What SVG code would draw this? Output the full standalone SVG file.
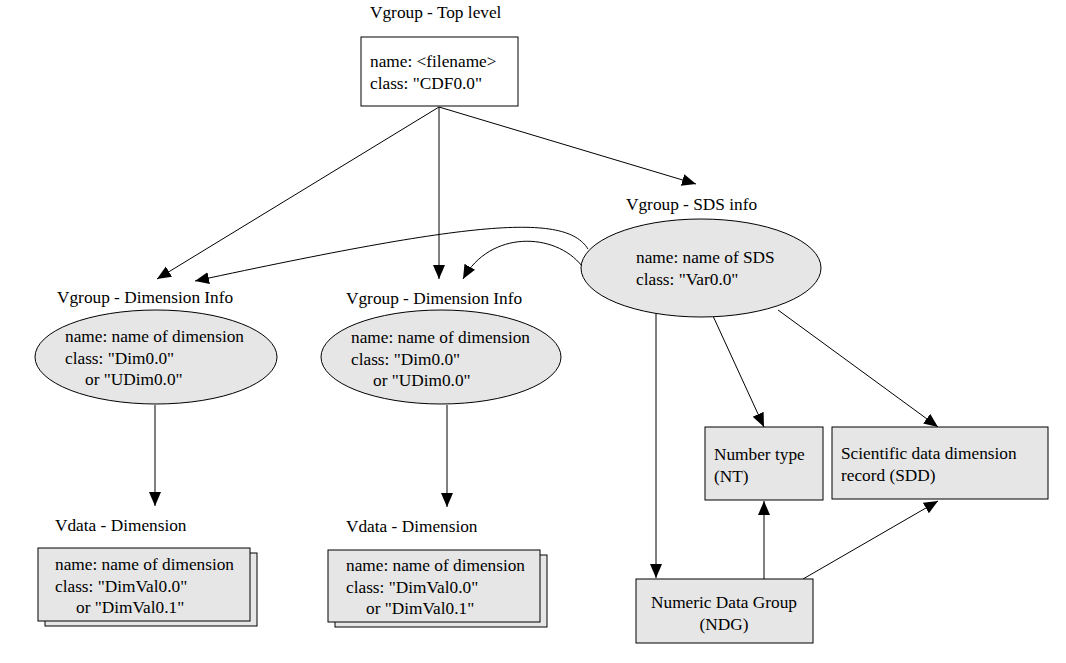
<svg xmlns="http://www.w3.org/2000/svg" width="1066" height="663" viewBox="0 0 1066 663" font-family="'Liberation Serif', 'DejaVu Serif', serif" font-size="17.3">
<style>
text{font-family:'Liberation Serif','DejaVu Serif',serif;font-size:17.3px;fill:#000}
.shape{fill:#e6e6e6;stroke:#000;stroke-width:1}
.box{fill:#fff;stroke:#000;stroke-width:1}
.conn{fill:none;stroke:#000;stroke-width:1}
</style>
<defs>
<marker id="arr" markerUnits="userSpaceOnUse" markerWidth="16" markerHeight="14" refX="14" refY="6" orient="auto">
<path d="M0,0 L14,6 L0,12 z" fill="#000"/>
</marker>
</defs>
<rect width="1066" height="663" fill="#fff"/>
<g id="connectors">
<line class="conn" x1="439" y1="107" x2="157" y2="279" marker-end="url(#arr)"/>
<line class="conn" x1="439" y1="107" x2="439" y2="279" marker-end="url(#arr)"/>
<line class="conn" x1="439" y1="107" x2="696" y2="184" marker-end="url(#arr)"/>
<path class="conn" d="M588,249 C565,212 470,222 195,281" marker-end="url(#arr)"/>
<path class="conn" d="M582,266 C555,232 490,230 463,279" marker-end="url(#arr)"/>
<line class="conn" x1="155" y1="405" x2="155" y2="506" marker-end="url(#arr)"/>
<line class="conn" x1="447" y1="405" x2="447" y2="507" marker-end="url(#arr)"/>
<line class="conn" x1="656" y1="308" x2="656" y2="578" marker-end="url(#arr)"/>
<line class="conn" x1="713" y1="316" x2="764" y2="427" marker-end="url(#arr)"/>
<line class="conn" x1="778" y1="310" x2="938" y2="427" marker-end="url(#arr)"/>
<line class="conn" x1="764" y1="579" x2="764" y2="501" marker-end="url(#arr)"/>
<line class="conn" x1="803" y1="579" x2="938" y2="501" marker-end="url(#arr)"/>
</g>
<g id="top">
<text x="370" y="18">Vgroup - Top level</text>
<rect class="box" x="361" y="37" width="157" height="69"/>
<text x="370" y="67">name: &lt;filename&gt;</text>
<text x="370" y="89">class: "CDF0.0"</text>
</g>
<g id="sds">
<text x="626" y="210">Vgroup - SDS info</text>
<ellipse class="shape" cx="701" cy="268" rx="120" ry="49"/>
<text x="636" y="263">name: name of SDS</text>
<text x="636" y="285">class: "Var0.0"</text>
</g>
<g id="dim1">
<text x="57" y="303">Vgroup - Dimension Info</text>
<ellipse class="shape" cx="156" cy="357" rx="121" ry="47"/>
<text x="65" y="342">name: name of dimension</text>
<text x="65" y="364">class: "Dim0.0"</text>
<text x="85" y="385">or "UDim0.0"</text>
</g>
<g id="dim2">
<text x="346" y="304">Vgroup - Dimension Info</text>
<ellipse class="shape" cx="441" cy="357" rx="120" ry="47"/>
<text x="351" y="343">name: name of dimension</text>
<text x="351" y="365">class: "Dim0.0"</text>
<text x="373" y="386">or "UDim0.0"</text>
</g>
<g id="vdata1">
<text x="55" y="531">Vdata - Dimension</text>
<rect class="shape" x="45" y="553" width="212" height="73"/>
<rect class="shape" x="38" y="548" width="212" height="73"/>
<text x="55" y="570">name: name of dimension</text>
<text x="55" y="592">class: "DimVal0.0"</text>
<text x="76" y="613">or "DimVal0.1"</text>
</g>
<g id="vdata2">
<text x="346" y="532">Vdata - Dimension</text>
<rect class="shape" x="335" y="555" width="212" height="72"/>
<rect class="shape" x="328" y="550" width="212" height="72"/>
<text x="346" y="571">name: name of dimension</text>
<text x="346" y="593">class: "DimVal0.0"</text>
<text x="366" y="614">or "DimVal0.1"</text>
</g>
<g id="nt">
<rect class="shape" x="705" y="427" width="118" height="73"/>
<text x="714" y="460">Number type</text>
<text x="714" y="482">(NT)</text>
</g>
<g id="sdd">
<rect class="shape" x="832" y="427" width="216" height="72"/>
<text x="841" y="459">Scientific data dimension</text>
<text x="841" y="481">record (SDD)</text>
</g>
<g id="ndg">
<rect class="shape" x="636" y="579" width="177" height="64"/>
<text x="724" y="608" text-anchor="middle">Numeric Data Group</text>
<text x="724" y="630" text-anchor="middle">(NDG)</text>
</g>
</svg>
